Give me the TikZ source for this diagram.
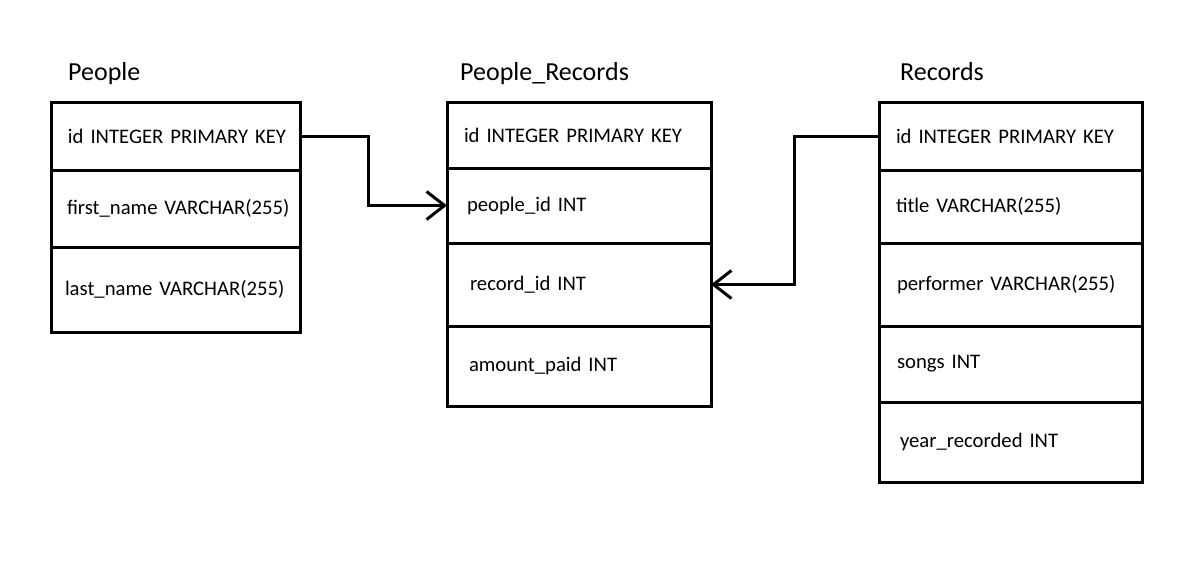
\documentclass[tikz,border=0pt]{standalone}
\usepackage{fontspec}
\setmainfont{Carlito}
\usetikzlibrary{arrows.meta,positioning}

\begin{document}
\begin{tikzpicture}[x=1pt,y=-1pt,>={Straight Barb[length=18pt,width=28pt]}]
    \tikzset{row/.style n args={2}{
      draw,
      rectangle,
      line width=3pt,
      outer sep=0pt,
      inner xsep=0pt,
      anchor=north west,
      align=left,
      text width=#1,
      execute at begin node={\hspace*{#2}},
      font=\fontsize{20.7}{25}\selectfont
    }};
    \tikzset{title/.style={
      anchor=base west,
      inner sep=0pt,
      font=\fontsize{26}{30}\selectfont
    }};
    \tikzset{link/.style={draw,line width=3pt}};

    \useasboundingbox (0,0) rectangle (1200,562);

    % People
    \node [row={249pt}{17pt}, minimum height=68pt] (p1) at (51,102) {id INTEGER PRIMARY KEY};
    \node [row={249pt}{16pt}, minimum height=77pt, below=0pt of p1.south west, anchor=north west] (p2) {first\_name VARCHAR(255)};
    \node [row={249pt}{14pt}, minimum height=85pt, below=0pt of p2.south west, anchor=north west] (p3) {last\_name VARCHAR(255)};
    \node [title] (ptitle) at (68,80) {People};

    % People_Records
    \node [row={264pt}{17pt}, minimum height=66pt, right=147pt of p1.north east, anchor=north west] (pr1) {id INTEGER PRIMARY KEY};
    \node [row={264pt}{20pt}, minimum height=75pt, below=0pt of pr1.south west, anchor=north west] (pr2) {people\_id INT};
    \node [row={264pt}{23pt}, minimum height=83pt, below=0pt of pr2.south west, anchor=north west] (pr3) {record\_id INT};
    \node [row={264pt}{22pt}, minimum height=80pt, below=0pt of pr3.south west, anchor=north west] (pr4) {amount\_paid INT};
    \node [title] (prtitle) at (460,80) {People\_Records};

    % Records
    \node [row={263pt}{17pt}, minimum height=68pt, right=168pt of pr1.north east, anchor=north west] (r1) {id INTEGER PRIMARY KEY};
    \node [row={263pt}{17pt}, minimum height=73pt, below=0pt of r1.south west, anchor=north west] (r2) {title VARCHAR(255)};
    \node [row={263pt}{18pt}, minimum height=83pt, below=0pt of r2.south west, anchor=north west] (r3) {performer VARCHAR(255)};
    \node [row={263pt}{18pt}, minimum height=76pt, below=0pt of r3.south west, anchor=north west] (r4) {songs INT};
    \node [row={263pt}{21pt}, minimum height=80pt, below=0pt of r4.south west, anchor=north west] (r5) {year\_recorded INT};
    \node [title] (rtitle) at (900,80) {Records};

    \path[link,->] (p1.east) -- ++(68,0) |- (pr2.west);
    \path[link,->] (r1.west) -- ++(-85,0) |- (pr3.east);

\end{tikzpicture}
\end{document}
